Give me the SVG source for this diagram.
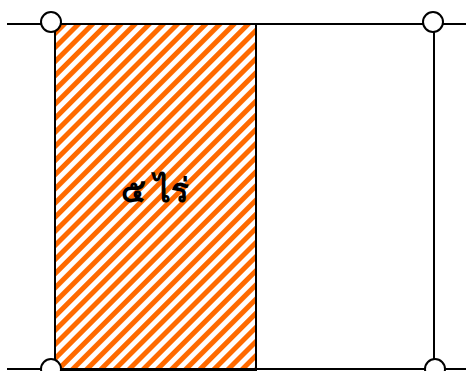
<svg xmlns="http://www.w3.org/2000/svg" width="466" height="371" viewBox="0 0 466 371">
<defs>
<pattern id="hatch" patternUnits="userSpaceOnUse" width="10" height="10" patternTransform="rotate(45)">
<rect width="10" height="10" fill="#ffffff"/>
<rect width="5" height="10" fill="#ff6a00"/>
</pattern>
<style>
.ln{stroke:#000;stroke-width:2;fill:none}
.area{stroke:#000;stroke-width:2;fill:url(#hatch)}
.pt{stroke:#000;stroke-width:2;fill:#fff}
.lbl{font-family:"Noto Sans","DejaVu Sans",sans-serif;font-weight:bold;font-size:33px;text-anchor:middle;fill:#000}
</style>
</defs>
<g id="plot">
<rect class="area" x="55" y="24" width="201" height="346"/>
<text class="lbl" x="155" y="202">๕ ไร่</text>
</g>
<g id="connectors">
<line class="ln" x1="7" y1="24" x2="466" y2="24"/>
<line class="ln" x1="7" y1="369" x2="466" y2="369"/>
<line class="ln" x1="434" y1="24" x2="434" y2="369"/>
</g>
<g id="p1"><circle class="pt" cx="51" cy="22" r="10"/></g>
<g id="p2"><circle class="pt" cx="433" cy="22" r="10"/></g>
<g id="p3"><circle class="pt" cx="51" cy="369" r="10"/></g>
<g id="p4"><circle class="pt" cx="435" cy="369" r="10"/></g>
</svg>
